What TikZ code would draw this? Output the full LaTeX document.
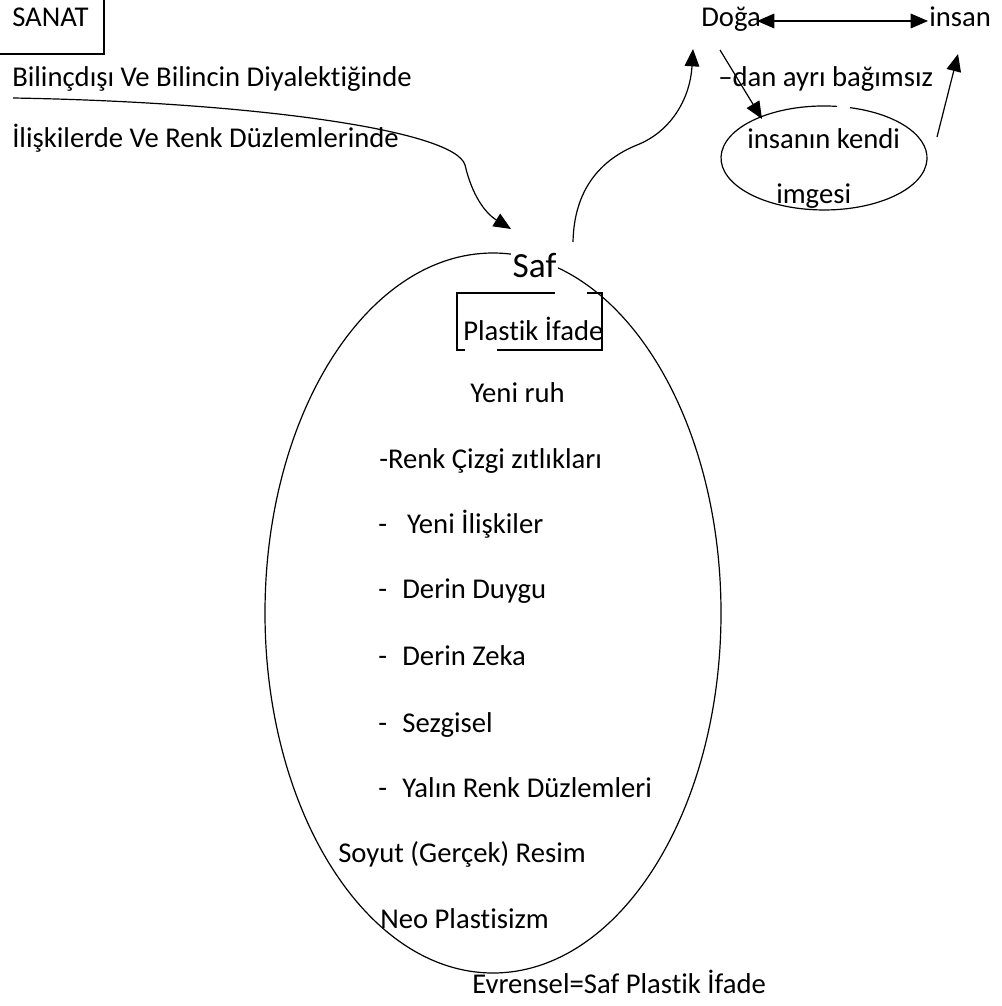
\documentclass[tikz,border=0pt]{standalone}
\usepackage{fontspec}
\setmainfont{Carlito}[Ligatures=NoCommon]
\usetikzlibrary{arrows.meta}
\begin{document}
\begin{tikzpicture}[x=0.75pt,y=-0.75pt,
  txt/.style={inner sep=0pt,anchor=base west,font=\fontsize{21.5}{26}\selectfont},
  big/.style={inner sep=1pt,anchor=base west,font=\fontsize{26.5}{32}\selectfont,fill=white},
  ln/.style={line width=0.9pt},
  arr/.style={ln,-{Triangle[length=13pt,width=11pt]}},
  dbl/.style={ln,{Triangle[length=13pt,width=11pt]}-{Triangle[length=13pt,width=11pt]}}]
\useasboundingbox[fill=white] (0,0) rectangle (1001,1006);

% title box, partly outside the page
\draw[ln] (0,54) -- (104,54) -- (104,0);
\node[txt] (sanat) at (12,27) {SANAT};

\node[txt] (bilinc) at (12,87) {Bilinçdışı Ve Bilincin Diyalektiğinde};
\node[txt] (iliski) at (12,147) {İlişkilerde Ve Renk Düzlemlerinde};

% large ellipse
\draw[ln] (493,613) ellipse [x radius=171pt, y radius=270pt];

\node[big] (saf) at (511,277) {Saf};

% open frame round "Plastik Ifade"
\draw[ln] (555,293) -- (457,293) -- (457,350) -- (465,350);
\draw[ln] (587,293) -- (602,293) -- (602,350) -- (497,350);
\node[txt] (plastik) at (463,340) {Plastik İfade};

\node[txt] (ruh) at (470,402) {Yeni ruh};
\node[txt] (renk) at (379,468) {-Renk Çizgi zıtlıkları};
\node[txt] (yeni) at (378,533) {-\hspace{15pt}Yeni İlişkiler};
\node[txt] (duygu) at (378,598) {-\hspace{11.5pt}Derin Duygu};
\node[txt] (zeka) at (378,665) {-\hspace{11.5pt}Derin Zeka};
\node[txt] (sezgi) at (378,732) {-\hspace{11.5pt}Sezgisel};
\node[txt] (yalin) at (378,797) {-\hspace{11.5pt}Yalın Renk Düzlemleri};
\node[txt] (soyut) at (338,862) {Soyut (Gerçek) Resim};
\node[txt] (neo) at (380,928) {Neo Plastisizm};
\node[txt] (evren) at (472,993) {Evrensel=Saf Plastik İfade};

% upper right group
\node[txt] (doga) at (701,27) {Doğa};
\node[txt] (insan) at (929,27) {insan};
\node[txt] (ayri) at (718,87) {–dan ayrı bağımsız};
\draw[ln] (837.1,106.4) arc [start angle=82.7, end angle=435.4, x radius=77.25pt, y radius=39pt];
\node[txt] (kendi) at (747,148) {insanın kendi};
\node[txt] (imge) at (776,203) {imgesi};

% connectors
\coordinate (c1) at (13,98);
\coordinate (c2) at (511,229);
\draw[arr] (c1) .. controls (250,102) and (455,130) .. (465,165)
               .. controls (472,195) and (485,213) .. (c2);

\coordinate (c3) at (573,242);
\coordinate (c4) at (693,49);
\draw[arr] (c3) .. controls (574,190) and (600,160) .. (637,145)
                .. controls (670,132) and (690,100) .. (c4);

\coordinate (d1) at (757,21);
\coordinate (d2) at (928,21);
\draw[dbl] (d1) -- (d2);

\coordinate (e1) at (720,50);
\coordinate (e2) at (762,119);
\draw[arr] (e1) -- (e2);

\coordinate (f1) at (937,137);
\coordinate (f2) at (958,54);
\draw[arr] (f1) -- (f2);
\end{tikzpicture}
\end{document}
